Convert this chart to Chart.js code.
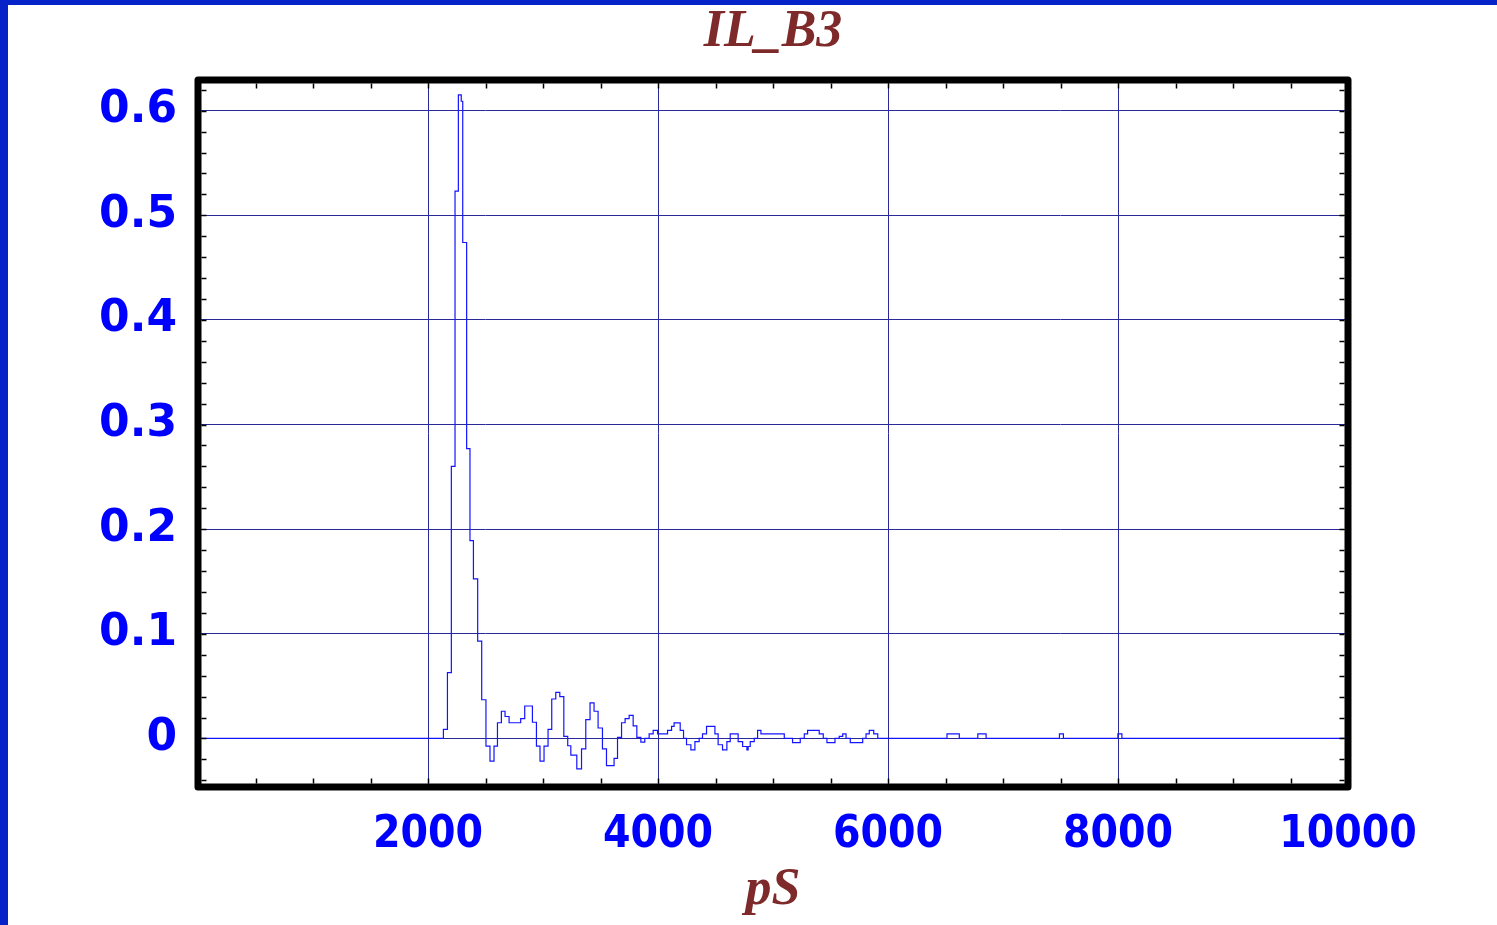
<!DOCTYPE html>
<html>
<head>
<meta charset="utf-8">
<script src="https://cdn.jsdelivr.net/npm/chart.js@4.4.0/dist/chart.umd.min.js"></script>
<style>
html,body{margin:0;padding:0;background:#fff;overflow:hidden}
#wrap{position:relative;width:1497px;height:925px}
canvas{display:block}
</style>
</head>
<body>
<div id="wrap"><canvas id="c" width="1497" height="925"></canvas></div>
<script>
// ---- data (breakpoints of the sampled step waveform) ----
const timePs = [0, 2134, 2169, 2203, 2235, 2264, 2289, 2302, 2336, 2365, 2395, 2432, 2467, 2504, 2539, 2574, 2604, 2638, 2670, 2705, 2806, 2841, 2908, 2943, 2974, 3009, 3044, 3076, 3111, 3146, 3181, 3215, 3242, 3294, 3335, 3372, 3409, 3444, 3479, 3517, 3552, 3618, 3648, 3683, 3714, 3749, 3784, 3816, 3851, 3885, 3923, 3958, 3996, 4083, 4118, 4140, 4193, 4222, 4248, 4286, 4321, 4358, 4387, 4422, 4495, 4523, 4561, 4599, 4628, 4697, 4736, 4773, 4784, 4802, 4837, 4866, 4895, 5098, 5170, 5237, 5272, 5301, 5402, 5437, 5469, 5539, 5576, 5606, 5635, 5672, 5780, 5809, 5837, 5876, 5911, 6513, 6620, 6781, 6853, 7491, 7525, 7999, 8034, 10000];
const ilB3 = [0, 0.0086, 0.063, 0.26, 0.523, 0.615, 0.609, 0.474, 0.277, 0.189, 0.1525, 0.093, 0.037, -0.0074, -0.0217, -0.0074, 0.015, 0.026, 0.021, 0.015, 0.019, 0.031, 0.0155, -0.0074, -0.0217, -0.0074, 0.0086, 0.0377, 0.044, 0.040, 0.002, -0.007, -0.016, -0.029, -0.010, 0.018, 0.034, 0.026, 0.010, -0.010, -0.026, -0.019, 0.001, 0.015, 0.019, 0.022, 0.012, 0.001, -0.0035, 0, 0.0044, 0.0078, 0.0044, 0.0078, 0.0115, 0.0149, 0.0078, 0, -0.006, -0.011, -0.003, 0, 0.0044, 0.0115, 0.0044, -0.006, -0.011, -0.003, 0.0044, -0.003, -0.0077, -0.011, -0.0077, -0.003, 0, 0.0078, 0.0044, 0, -0.004, 0, 0.0044, 0.0078, 0.0044, 0, -0.004, 0, 0.002, 0.0044, 0, -0.004, 0, 0.0044, 0.0078, 0.0044, 0, 0.0044, 0, 0.0044, 0, 0.0044, 0, 0.0044, 0, 0];
const xTickValues = [2000, 4000, 6000, 8000, 10000];
const yTickValues = [0, 0.1, 0.2, 0.3, 0.4, 0.5, 0.6];
const chartTitle = 'IL_B3';
const xAxisTitle = 'pS';

// ---- layout / style constants ----
const X_MIN = 0, X_MAX = 10000;
const Y_MIN = -0.0464, Y_MAX = 0.6293;
const X_MINOR = 500, Y_MINOR = 0.02;
const AREA = {left: 198, right: 1348, top: 80, bottom: 787};
const W = 1497, H = 925;
const PAD_LEFT = 49;
const gridColor = '#29299a';
const yTickFont = {family: "'DejaVu Sans', sans-serif", size: 44, weight: 'bold'};
const xTickFont = {family: "'DejaVu Sans Condensed', 'DejaVu Sans', sans-serif", size: 44, weight: 'bold'};
const titleFont = {family: "'Liberation Serif', 'Times New Roman', serif", size: 52, weight: 'bold', style: 'italic', lineHeight: 1};

const points = timePs.map((t, i) => ({x: t, y: ilB3[i]}));

const bgPlugin = {
  id: 'bg',
  beforeDraw(chart) {
    const ctx = chart.ctx;
    ctx.save();
    ctx.fillStyle = '#ffffff';
    ctx.fillRect(0, 0, W, H);
    ctx.fillStyle = '#0523c9';
    ctx.fillRect(0, 0, 8, H);
    ctx.fillRect(0, 0, W, 5);
    ctx.restore();
  }
};

const framePlugin = {
  id: 'frame',
  afterDraw(chart) {
    const ctx = chart.ctx;
    const a = chart.chartArea;
    const xs = chart.scales.x, ys = chart.scales.y;
    ctx.save();
    ctx.strokeStyle = '#000';
    ctx.lineWidth = 1.5;
    const inset = 3.5, len = 5;
    ctx.beginPath();
    for (let v = X_MIN + X_MINOR; v < X_MAX; v += X_MINOR) {
      const px = Math.round(xs.getPixelForValue(v)) + 0.5;
      ctx.moveTo(px, a.top + inset); ctx.lineTo(px, a.top + inset + len);
      ctx.moveTo(px, a.bottom - inset); ctx.lineTo(px, a.bottom - inset - len);
    }
    for (let k = Math.ceil(Y_MIN / Y_MINOR); k * Y_MINOR < Y_MAX; k++) {
      const py = Math.round(ys.getPixelForValue(k * Y_MINOR)) + 0.5;
      ctx.moveTo(a.left + inset, py); ctx.lineTo(a.left + inset + len, py);
      ctx.moveTo(a.right - inset, py); ctx.lineTo(a.right - inset - len, py);
    }
    ctx.stroke();
    ctx.lineWidth = 7;
    ctx.lineJoin = 'round';
    ctx.strokeRect(a.left, a.top, a.right - a.left, a.bottom - a.top);
    ctx.restore();
  }
};

new Chart(document.getElementById('c'), {
  type: 'line',
  data: {
    datasets: [{
      data: points,
      stepped: true,
      borderColor: '#1414ff',
      borderWidth: 1.2,
      pointRadius: 0,
      fill: false
    }]
  },
  options: {
    responsive: false,
    animation: false,
    devicePixelRatio: 1,
    layout: {padding: {left: PAD_LEFT, right: 0, top: 0, bottom: 0}},
    plugins: {
      legend: {display: false},
      tooltip: {enabled: false},
      title: {
        display: true,
        text: chartTitle,
        color: '#7f2a2a',
        font: titleFont,
        padding: {top: 7, bottom: AREA.top - 52 - 7}
      }
    },
    scales: {
      x: {
        type: 'linear',
        min: X_MIN, max: X_MAX,
        afterBuildTicks(s) { s.ticks = xTickValues.map(v => ({value: v})); },
        afterFit(s) { s.height = H - AREA.bottom; },
        grid: {color: gridColor, lineWidth: 1, drawTicks: false},
        border: {display: false},
        ticks: {color: '#0000ff', font: xTickFont, padding: 22, maxRotation: 0, autoSkip: false,
          callback: v => String(v)},
        title: {display: true, text: xAxisTitle, color: '#7f2a2a', font: titleFont, padding: {top: 0, bottom: 8}}
      },
      y: {
        type: 'linear',
        position: 'left',
        min: Y_MIN, max: Y_MAX,
        afterBuildTicks(s) { s.ticks = yTickValues.map(v => ({value: v})); },
        afterFit(s) { s.width = AREA.left - PAD_LEFT; },
        grid: {color: gridColor, lineWidth: 1, drawTicks: false},
        border: {display: false},
        ticks: {color: '#0000ff', font: yTickFont, padding: 21, autoSkip: false,
          callback: v => String(+(+v).toFixed(2))}
      },
      yRight: {
        type: 'linear',
        position: 'right',
        min: Y_MIN, max: Y_MAX,
        afterFit(s) { s.width = W - AREA.right; },
        grid: {display: false, drawTicks: false},
        border: {display: false},
        ticks: {display: false}
      }
    }
  },
  plugins: [bgPlugin, framePlugin]
});
</script>
</body>
</html>
